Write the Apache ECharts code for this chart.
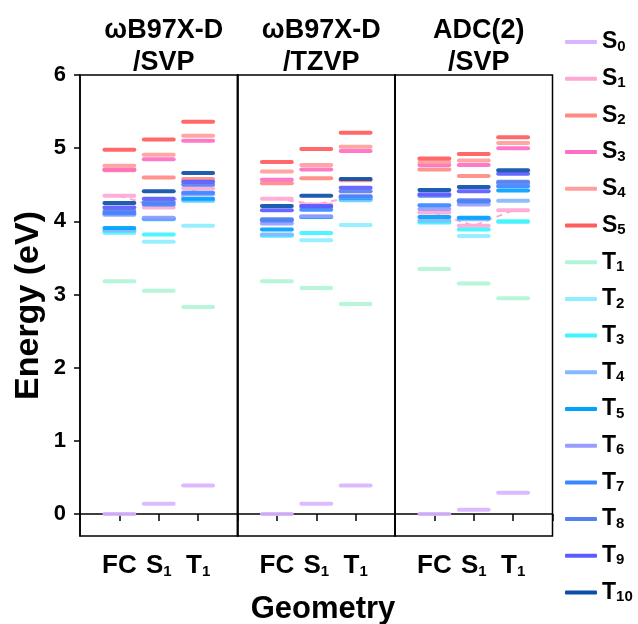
<!DOCTYPE html>
<html>
<head>
<meta charset="utf-8">
<script src="https://cdn.jsdelivr.net/npm/echarts@6/dist/echarts.min.js"></script>
<style>
  html, body { margin: 0; padding: 0; background: #fff; }
  #chart { width: 638px; height: 624px; }
</style>
</head>
<body>
<div id="chart"></div>
<script>
// panels and geometries
const panelTitles = ['ωB97X-D\n/SVP', 'ωB97X-D\n/TZVP', 'ADC(2)\n/SVP'];
const geometries = ['FC', 'S1', 'T1'];
const states = ['S0', 'S1', 'S2', 'S3', 'S4', 'S5', 'T1', 'T2', 'T3', 'T4', 'T5', 'T6', 'T7', 'T8', 'T9', 'T10'];

// energies (eV): panel1 FC,S1,T1 | panel2 FC,S1,T1 | panel3 FC,S1,T1
const S0  = [0.00, 0.14, 0.39,  0.00, 0.14, 0.39,  0.00, 0.06, 0.29];
const S1  = [4.35, 4.19, 4.45,  4.31, 4.23, 4.35,  4.12, 3.94, 4.15];
const S2  = [4.70, 4.60, 4.58,  4.52, 4.59, 4.56,  4.71, 4.62, 4.52];
const S3  = [4.71, 4.85, 5.10,  4.57, 4.71, 4.96,  4.77, 4.77, 5.00];
const S4  = [4.76, 4.91, 5.17,  4.68, 4.77, 5.02,  4.81, 4.83, 5.07];
const S5  = [4.98, 5.12, 5.36,  4.81, 4.99, 5.21,  4.86, 4.92, 5.15];
const T1  = [3.18, 3.05, 2.83,  3.18, 3.09, 2.87,  3.35, 3.15, 2.95];
const T2  = [3.84, 3.72, 3.94,  3.80, 3.74, 3.95,  3.98, 3.80, 3.99];
const T3  = [3.86, 3.82, 4.28,  3.81, 3.84, 4.29,  3.99, 3.89, 4.00];
const T4  = [3.88, 4.03, 4.29,  3.82, 4.06, 4.30,  4.01, 4.03, 4.28];
const T5  = [3.91, 4.04, 4.31,  3.89, 4.06, 4.32,  4.06, 4.05, 4.42];
const T6  = [4.09, 4.05, 4.37,  3.97, 4.07, 4.33,  4.17, 4.23, 4.52];
const T7  = [4.11, 4.23, 4.39,  4.01, 4.16, 4.34,  4.22, 4.27, 4.48];
const T8  = [4.14, 4.26, 4.50,  4.03, 4.20, 4.41,  4.35, 4.29, 4.54];
const T9  = [4.19, 4.31, 4.54,  4.15, 4.21, 4.46,  4.37, 4.41, 4.65];
const T10 = [4.25, 4.41, 4.66,  4.21, 4.35, 4.58,  4.43, 4.47, 4.70];
const energies = { S0, S1, S2, S3, S4, S5, T1, T2, T3, T4, T5, T6, T7, T8, T9, T10 };

const yTicks = [0, 1, 2, 3, 4, 5, 6];

const colors = {
  S0: '#d9b4ff', S1: '#ffa8d4', S2: '#ff8a84', S3: '#ff6ec4', S4: '#ff9e9c', S5: '#ff5c5c',
  T1: '#b2f5d6', T2: '#8eeeff', T3: '#3ff4ff', T4: '#86b9ff', T5: '#00a2ff', T6: '#999cff',
  T7: '#3a88ff', T8: '#5580f0', T9: '#5b5cff', T10: '#0b4fa8'
};

const FONT = 'Liberation Sans, Arial, sans-serif';
const subRich = {
  sub: { fontSize: 15, fontWeight: 'bold', lineHeight: 10, verticalAlign: 'bottom', fontFamily: FONT, color: '#000' }
};
// S1 -> S{sub|1}, FC stays as is
const withSub = s => /^[ST]\d+$/.test(s) ? s[0] + '{sub|' + s.slice(1) + '}' : s;

const gridLeft = [80, 237.5, 395];
const gridW = 157.5;

function levelItem(params, api) {
  const p = api.coord([api.value(0), api.value(1)]);
  const half = api.size([1, 0])[0] * 0.38;
  return {
    type: 'line',
    shape: { x1: p[0] - half, y1: p[1], x2: p[0] + half, y2: p[1] },
    style: { stroke: api.visual('color'), lineWidth: 4, lineCap: 'round', opacity: 0.92 }
  };
}

const grid = [], xAxis = [], yAxis = [], series = [], title = [];
for (let g = 0; g < 3; g++) {
  grid.push({ left: gridLeft[g], width: gridW, top: 75, height: 461, show: true, borderColor: '#000', borderWidth: 1.5 });
  xAxis.push({
    gridIndex: g, type: 'value', min: 0, max: 4, interval: 1,
    axisLine: { show: true, lineStyle: { color: '#000', width: 1.5 } },
    axisTick: { show: true, inside: false, length: 7, lineStyle: { color: '#000', width: 1.5 } },
    axisLabel: {
      margin: 17, color: '#000', fontSize: 26, fontWeight: 'bold', fontFamily: FONT, rich: subRich,
      formatter: v => (v >= 1 && v <= 3) ? withSub(geometries[v - 1]) : ''
    },
    splitLine: { show: false }
  });
  yAxis.push({
    gridIndex: g, type: 'value', min: -0.3, max: 6,
    name: g === 0 ? 'Energy (eV)' : '', nameLocation: 'middle', nameGap: 34,
    nameTextStyle: { fontSize: 34, fontWeight: 'bold', fontFamily: FONT, color: '#000' },
    axisLine: { show: true, lineStyle: { color: '#000', width: 1.5 } },
    axisTick: { show: g === 0, length: 6, customValues: yTicks, lineStyle: { color: '#000', width: 1.5 } },
    axisLabel: { show: g === 0, customValues: yTicks, margin: 14, color: '#000', fontSize: 22, fontWeight: 'bold', fontFamily: FONT },
    splitLine: { show: false }
  });
  title.push({
    text: panelTitles[g], left: gridLeft[g] + gridW / 2, top: 10, textAlign: 'center',
    textStyle: { fontSize: 27, fontWeight: 'bold', fontFamily: FONT, color: '#000', lineHeight: 32 }
  });
  // dashed S1 path under the levels
  series.push({
    name: 'S1 path', type: 'line', xAxisIndex: g, yAxisIndex: g, showSymbol: false, silent: true, z: 1,
    lineStyle: { color: colors.S1, width: 2, type: [6, 5] },
    data: geometries.map((_, i) => [i + 1, S1[g * 3 + i]])
  });
  states.forEach(s => {
    series.push({
      name: s, type: 'custom', xAxisIndex: g, yAxisIndex: g, z: 2,
      itemStyle: { color: colors[s] },
      renderItem: levelItem,
      data: geometries.map((_, i) => [i + 1, energies[s][g * 3 + i]])
    });
  });
}

title.push({
  text: 'Geometry', left: 318, top: 589, textAlign: 'center',
  textStyle: { fontSize: 31, fontWeight: 'bold', fontFamily: FONT, color: '#000' }
});

const option = {
  animation: false,
  backgroundColor: '#fff',
  title: title,
  grid: grid,
  xAxis: xAxis,
  yAxis: yAxis,
  legend: {
    orient: 'vertical', left: 560, top: 25,
    itemWidth: 32, itemHeight: 4, itemGap: 12.7,
    icon: 'roundRect',
    data: states,
    formatter: withSub,
    textStyle: {
      fontSize: 23, fontWeight: 'bold', fontFamily: FONT, color: '#000', lineHeight: 24,
      rich: subRich
    }
  },
  series: series
};

const chart = echarts.init(document.getElementById('chart'));
chart.setOption(option);
</script>
</body>
</html>
